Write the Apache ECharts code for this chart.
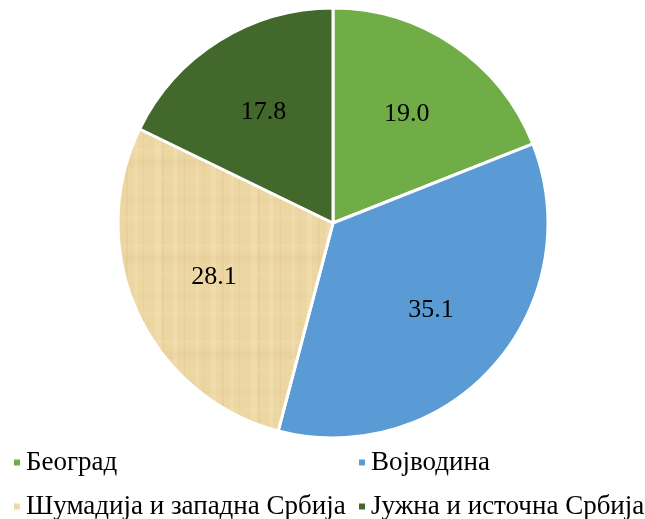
<!DOCTYPE html>
<html>
<head>
<meta charset="utf-8">
<title>pie</title>
<script src="https://cdn.jsdelivr.net/npm/echarts@6/dist/echarts.min.js"></script>
<style>
  *{margin:0;padding:0;}
  body{background:#fff;}
  #main{width:645px;height:519px;}
</style>
</head>
<body>
<div id="main"></div>
<script>
var regions = ['Београд', 'Војводина', 'Шумадија и западна Србија', 'Јужна и источна Србија'];
var shares = [19.0, 35.1, 28.1, 17.8];
var colors = ['#70ad47', '#5b9bd5', '#ecd6a2', '#43682b'];

// papyrus-like texture for the third slice
function papyrus() {
    var c = document.createElement('canvas');
    c.width = 96; c.height = 96;
    var g = c.getContext('2d');
    g.fillStyle = '#ecd6a2';
    g.fillRect(0, 0, 96, 96);
    var vx = [4, 11, 19, 30, 38, 47, 59, 66, 77, 88];
    var vw = [3, 1, 5, 2, 4, 1, 6, 2, 4, 1];
    for (var i = 0; i < vx.length; i++) {
        g.fillStyle = (i % 2) ? 'rgba(190,160,100,0.10)' : 'rgba(250,235,195,0.25)';
        g.fillRect(vx[i], 0, vw[i], 96);
    }
    var hy = [7, 23, 36, 52, 63, 81];
    var hh = [2, 6, 1, 3, 8, 2];
    for (var j = 0; j < hy.length; j++) {
        g.fillStyle = (j % 2) ? 'rgba(250,232,190,0.18)' : 'rgba(200,170,110,0.07)';
        g.fillRect(0, hy[j], 96, hh[j]);
    }
    return c;
}

var pieData = [];
for (var i = 0; i < regions.length; i++) {
    var col = colors[i];
    if (i == 2) col = {image: papyrus(), repeat: 'repeat'};
    pieData.push({name: regions[i], value: shares[i], itemStyle: {color: col}});
}

var legendText = {fontFamily: 'Liberation Serif', fontSize: 27, color: '#000'};
function oneLegend(k, x, y) {
    return {
        left: x, top: y, padding: 0,
        itemWidth: 8, itemHeight: 8, itemGap: 6,
        icon: 'rect',
        data: [regions[k]],
        textStyle: legendText
    };
}

var myChart = echarts.init(document.getElementById('main'));
var option = {
    animation: false,
    color: colors,
    legend: [
        oneLegend(0, 12, 449),
        oneLegend(1, 357, 449),
        oneLegend(2, 12, 493),
        oneLegend(3, 357, 493)
    ],
    series: [{
        type: 'pie',
        center: [333, 223],
        radius: [0, 215],
        startAngle: 90,
        clockwise: true,
        label: {show: false},
        labelLine: {show: false},
        itemStyle: {borderColor: '#fff', borderWidth: 3},
        data: pieData
    }, {
        // label carrier, transparent, puts numbers at about 0.6 r
        type: 'pie',
        center: [333, 223],
        radius: [0, 256],
        startAngle: 90,
        silent: true,
        legendHoverLink: false,
        itemStyle: {color: 'transparent'},
        label: {
            show: true, position: 'inside',
            fontFamily: 'Liberation Serif', fontSize: 26, color: '#000',
            formatter: function (p) { return p.value.toFixed(1); }
        },
        labelLine: {show: false},
        data: regions.map(function (r, k) { return {name: r + ' ', value: shares[k]}; })
    }]
};
myChart.setOption(option);
</script>
</body>
</html>
